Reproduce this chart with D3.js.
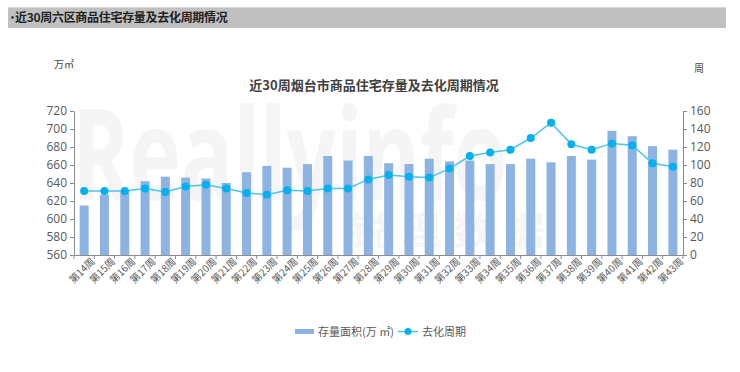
<!DOCTYPE html>
<html><head><meta charset="utf-8">
<script src="https://cdn.jsdelivr.net/npm/d3@7"></script>
<style>body{margin:0;background:#fff;font-family:"Noto Sans CJK SC","Open Sans",sans-serif}</style>
</head><body><svg id="c" width="740" height="372"></svg>
<script>
const weeks = ["第14周","第15周","第16周","第17周","第18周","第19周","第20周","第21周","第22周","第23周","第24周","第25周","第26周","第27周","第28周","第29周","第30周","第31周","第32周","第33周","第34周","第35周","第36周","第37周","第38周","第39周","第40周","第41周","第42周","第43周"];
const stock = [615,627,631,642,647,646,645,640,652,659,657,661,670,665,670,662,661,667,664,665,661,661,667,663,670,666,698,692,681,677];
const cycle = [71,71,71,74,70,76,78,74,69,67,72,71,74,74,84,89,87,86,96,110,114,117,130,147,123,117,124,122,102,98];
const leftTicks = [560,580,600,620,640,660,680,700,720];
const rightTicks = [0,20,40,60,80,100,120,140,160];

const svg = d3.select("#c");
const L = 74, R = 683, T = 111, B = 255;

// header bar
svg.append("rect").attr("x",8).attr("y",7).attr("width",718).attr("height",21).attr("fill","#c0c0c0");
svg.append("line").attr("x1",8).attr("x2",726).attr("y1",7.5).attr("y2",7.5).attr("stroke","#d9d9d9");
svg.append("circle").attr("cx",12.5).attr("cy",17.5).attr("r",1.3).attr("fill","#222");
svg.append("text").attr("x",15).attr("y",22).attr("font-size",12).attr("font-weight","bold").attr("fill","#222")
  .attr("letter-spacing",-0.3).text("近30周六区商品住宅存量及去化周期情况");

// watermark
svg.append("text").attr("transform","translate(72,200) scale(0.68,1)").attr("font-family","Open Sans").attr("font-weight","bold").attr("font-size",128).attr("fill","#f5f5f5")
  .text("Reallyinfo");
svg.append("text").attr("x",350).attr("y",244).attr("font-size",38).attr("font-weight","bold").attr("fill","#f5f5f5")
  .attr("letter-spacing",14).text("锐理数据");

const xc = d3.scaleBand().domain(weeks).range([L,R]);
const yl = d3.scaleLinear().domain([560,720]).range([B,T]);
const yr = d3.scaleLinear().domain([0,160]).range([B,T]);

// bars
svg.append("g").selectAll("rect").data(stock).join("rect")
  .attr("x",(d,i)=>xc(weeks[i])+xc.bandwidth()/2-4.5).attr("width",9)
  .attr("y",d=>yl(d)).attr("height",d=>B-yl(d)).attr("fill","#8db3e2");

// line
const line = d3.line().x((d,i)=>xc(weeks[i])+xc.bandwidth()/2).y(d=>yr(d));
svg.append("path").datum(cycle).attr("d",line).attr("fill","none").attr("stroke","#4cc3f2").attr("stroke-width",1.5);
svg.append("g").selectAll("circle").data(cycle).join("circle")
  .attr("cx",(d,i)=>xc(weeks[i])+xc.bandwidth()/2).attr("cy",d=>yr(d)).attr("r",4).attr("fill","#00b0f0");

// axes
const styleAxis = g => {
  g.selectAll("path,line").attr("stroke","#8c8c8c");
  g.selectAll("text").attr("fill","#595959").attr("font-family","Open Sans, Noto Sans, sans-serif");
};
svg.append("g").attr("transform",`translate(${L},0)`)
  .call(d3.axisLeft(yl).tickValues(leftTicks).tickSize(4).tickSizeOuter(0))
  .call(g=>g.selectAll("text").attr("font-size",12)).call(styleAxis);
svg.append("g").attr("transform",`translate(${R},0)`)
  .call(d3.axisRight(yr).tickValues(rightTicks).tickSize(4).tickSizeOuter(0))
  .call(g=>g.selectAll("text").attr("font-size",12)).call(styleAxis);
const xa = svg.append("g").attr("transform",`translate(0,${B})`)
  .call(d3.axisBottom(xc).tickSize(0).tickSizeOuter(0));
xa.call(styleAxis);
xa.selectAll("text").attr("font-size",10).attr("font-family","Noto Sans CJK SC").attr("fill","#595959")
  .attr("text-anchor","end").attr("x",3).attr("y",6).attr("dy","0.7em")
  .attr("transform","rotate(-45)");
// x tick marks at category boundaries
svg.append("g").selectAll("line").data(d3.range(weeks.length+1)).join("line")
  .attr("x1",i=>L+i*xc.step()).attr("x2",i=>L+i*xc.step()).attr("y1",B).attr("y2",B+4).attr("stroke","#8c8c8c");

// unit labels
svg.append("text").attr("x",54).attr("y",68).attr("font-size",10).attr("fill","#444").text("万㎡");
svg.append("text").attr("x",694).attr("y",72).attr("font-size",10).attr("fill","#444").text("周");

// title
svg.append("text").attr("x",374).attr("y",90).attr("text-anchor","middle").attr("font-size",13).attr("font-weight","bold")
  .attr("fill","#404040").text("近30周烟台市商品住宅存量及去化周期情况");

// legend
svg.append("rect").attr("x",295).attr("y",329).attr("width",19).attr("height",5).attr("fill","#8db3e2");
svg.append("text").attr("x",318).attr("y",336).attr("font-size",11).attr("fill","#595959").text("存量面积(万 ㎡)");
svg.append("line").attr("x1",398).attr("x2",418).attr("y1",331.5).attr("y2",331.5).attr("stroke","#4cc3f2").attr("stroke-width",1.5);
svg.append("circle").attr("cx",408).attr("cy",331.5).attr("r",3.5).attr("fill","#00b0f0");
svg.append("text").attr("x",422).attr("y",336).attr("font-size",11).attr("fill","#595959").text("去化周期");
</script></body></html>
